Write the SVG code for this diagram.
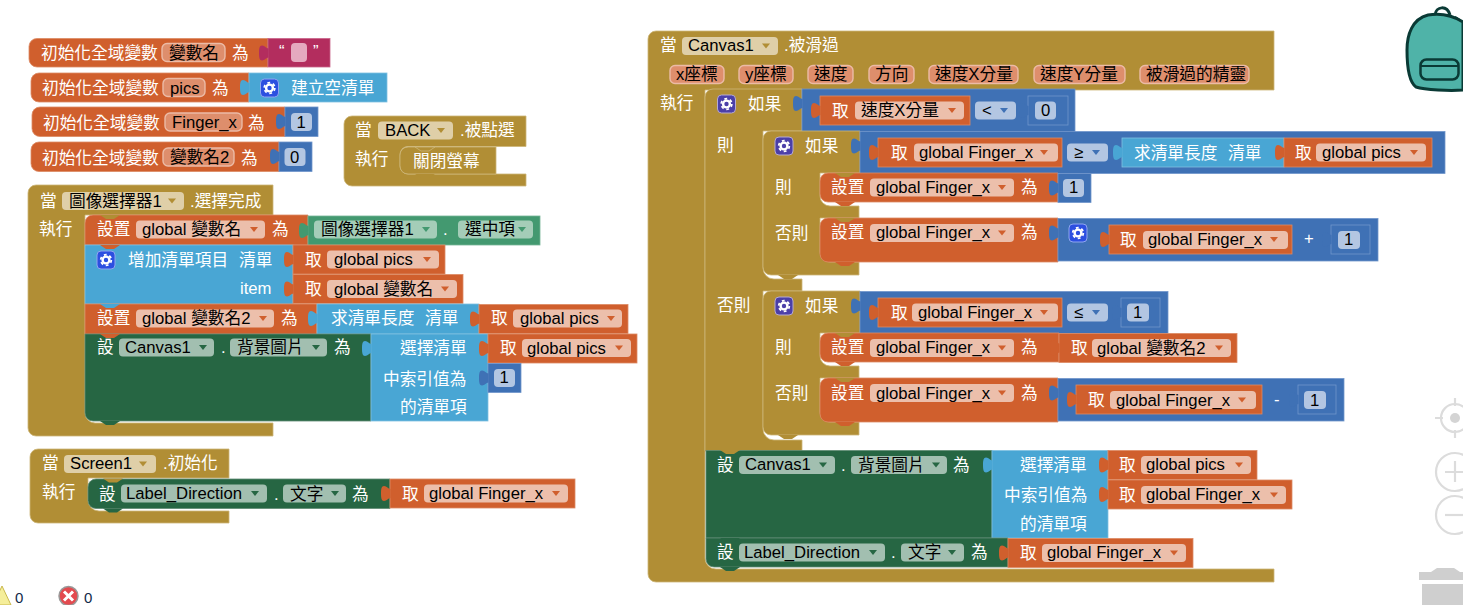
<svg xmlns="http://www.w3.org/2000/svg" width="1463" height="605" viewBox="0 0 1463 605">
<style>
text{font-family:"Liberation Sans","Noto Sans CJK TC",sans-serif;font-size:16.7px;fill:#fff;white-space:pre}
text.k{fill:#000}
.o{fill:#d05f2d;stroke:#dc8a64;stroke-width:.8}
.l{fill:#49a6d4;stroke:#7fc1e1;stroke-width:.8}
.m{fill:#3f71b5;stroke:#7096cb;stroke-width:.8}
.g{fill:#b18e35;stroke:#cdb678;stroke-width:.8}
.d{fill:#266643;stroke:#5f8c74;stroke-width:.8}
.t{fill:#439970;stroke:#76b497;stroke-width:.8}
.p{fill:#b32d5e;stroke:#c9648a;stroke-width:.8}
.nb{stroke:none}
.fo{fill:#ecbfab}.fg{fill:#dfcfa8}.fd{fill:#a2bfb0}.fm{fill:#b3c6e2}.ft{fill:#a4cdb8}
.fv{fill:#de8e6c;stroke:#ecbba6;stroke-width:1.4}
.ao{fill:#d05f2d}.ag{fill:#b18e35}.ad{fill:#266643}.am{fill:#3f71b5}.at{fill:#439970}
.gb{fill:#2c4fe0;stroke:#8fa6ef;stroke-width:1}
.gp{fill:#4b3fa8;stroke:#b6aad0;stroke-width:1}
.ui{fill:none;stroke:#dcdcdc;stroke-width:2.2}
</style>
<defs>
<path id="tab" d="M.5 10C-2 10-3 7-6 7C-8.500 7-9 10-9 14.500C-9 19-8.500 22-6 22C-3 22-2 19 .5 19z"/>
<path id="arr" d="M0 0h8l-4 5z"/>
<path id="nt" d="M0 0l6 4h8l6-4z"/>
<g id="gear" fill="none" stroke="#fff"><circle cx="9" cy="9" r="3.400" stroke-width="2.400"/><circle cx="9" cy="9" r="5.300" stroke-width="1.800" stroke-dasharray="2.800 2.750"/></g>
</defs>

<g id="init-string">
<path class="o" d="M37 38.5H268V67H37a8 8 0 0 1-8-8V46.500a8 8 0 0 1 8-8z"/>
<text x="41" y="59">初始化全域變數</text><rect class="fv" x="162" y="43.500" width="63" height="18" rx="5"/><text class="k" x="169" y="59">變數名</text><text x="232" y="59">為</text>
<g transform="translate(268 38.500)"><rect class="p" width="62" height="28.500"/><use href="#tab" class="p nb"/></g>
<rect x="291" y="43" width="16" height="19" rx="4" fill="#e5a9bf"/><text x="279" y="57" font-size="13">“</text><text x="313" y="57">”</text>
</g>
<g id="init-pics">
<path class="o" d="M39 73H249V102H39a8 8 0 0 1-8-8V81a8 8 0 0 1 8-8z"/>
<text x="42" y="94">初始化全域變數</text><rect class="fv" x="163" y="78.500" width="42" height="18" rx="5"/><text class="k" x="170" y="94">pics</text><text x="212" y="94">為</text>
<g transform="translate(249 73)"><rect class="l" width="138" height="29"/><use href="#tab" class="l nb"/></g>
<rect class="gb" x="260.500" y="79" width="18" height="18" rx="4"/><use href="#gear" x="260.500" y="79"/><text x="291" y="94">建立空清單</text>
</g>
<g id="init-finger">
<path class="o" d="M40 107H285V136.500H40a8 8 0 0 1-8-8V115a8 8 0 0 1 8-8z"/>
<text x="43" y="129">初始化全域變數</text><rect class="fv" x="165" y="113" width="77" height="18" rx="5"/><text class="k" x="172" y="128">Finger_x</text><text x="248" y="129">為</text>
<g transform="translate(285 107)"><rect class="m" width="33" height="29.500"/><use href="#tab" class="m nb"/></g>
<rect class="fm" x="291" y="113" width="21" height="18" rx="4"/><text class="k" x="296.500" y="128">1</text>
</g>
<g id="init-name2">
<path class="o" d="M39 142H279V171.500H39a8 8 0 0 1-8-8V150a8 8 0 0 1 8-8z"/>
<text x="42" y="164">初始化全域變數</text><rect class="fv" x="163" y="148" width="71" height="18" rx="5"/><text class="k" x="170" y="163">變數名2</text><text x="241" y="164">為</text>
<g transform="translate(279 142)"><rect class="m" width="33" height="29.500"/><use href="#tab" class="m nb"/></g>
<rect class="fm" x="284.500" y="148" width="21" height="18" rx="4"/><text class="k" x="290" y="163">0</text>
</g>

<g id="when-back">
<path class="g" d="M352 116H526V146.500H408a8 8 0 0 0-8 8V166a8 8 0 0 0 8 8H526V186H352a8 8 0 0 1-8-8V124a8 8 0 0 1 8-8z"/>
<text x="355" y="136">當</text><rect class="fg" x="378" y="121.500" width="75" height="18" rx="4"/><text class="k" x="385" y="136">BACK</text><use href="#arr" x="437" y="128" class="ag"/><text x="460" y="136">.被點選</text><text x="355" y="165">執行</text>
<path class="g" d="M408 147H496V174H408a8 8 0 0 1-8-8V155a8 8 0 0 1 8-8z"/><use href="#nt" x="415" y="147" class="g"/><use href="#nt" x="415" y="174" class="g nb"/>
<text x="413" y="167">關閉螢幕</text>
</g>

<g id="when-picker">
<path class="g" d="M36 185H273V215H85V413a10 10 0 0 0 10 10H273V436H36a8 8 0 0 1-8-8V193a8 8 0 0 1 8-8z"/>
<text x="40" y="207">當</text><rect class="fg" x="62" y="192" width="122" height="18" rx="4"/><text class="k" x="69" y="207">圖像選擇器1</text><use href="#arr" x="168" y="198.500" class="ag"/><text x="190" y="207">.選擇完成</text><text x="39" y="235">執行</text>
<path class="o" d="M93 215H308V245H85V223a8 8 0 0 1 8-8z"/>
<use href="#nt" x="100" y="215" class="g nb"/>
<text x="97" y="235">設置</text><rect class="fo" x="136" y="220.500" width="129" height="18" rx="4"/><text class="k" x="142" y="235">global 變數名</text><use href="#arr" x="250" y="227" class="ao"/><text x="272" y="235">為</text>
<g transform="translate(308 216)"><rect class="t" width="232" height="29"/><use href="#tab" class="t nb"/></g>
<rect class="ft" x="314" y="220.500" width="123" height="18" rx="4"/><text class="k" x="321" y="235">圖像選擇器1</text><use href="#arr" x="422" y="227" class="at"/><text x="443" y="235">.</text><rect class="ft" x="458" y="220.500" width="75" height="18" rx="4"/><text class="k" x="465" y="235">選中項</text><use href="#arr" x="518" y="227" class="at"/>
<rect class="l" x="85" y="245" width="208" height="59"/><use href="#nt" x="100" y="245" class="o nb"/>
<rect class="gb" x="97" y="251" width="18" height="18" rx="4"/><use href="#gear" x="97" y="251"/><text x="128" y="266">增加清單項目</text><text x="239" y="266">清單</text><text x="240" y="294">item</text>
<g transform="translate(293 245)"><rect class="o" width="152" height="29"/><use href="#tab" class="o nb"/></g>
<text x="305" y="266">取</text><rect class="fo" x="327" y="250.500" width="112" height="18" rx="4"/><text class="k" x="334" y="265">global pics</text><use href="#arr" x="423" y="257" class="ao"/>
<g transform="translate(293 274.500)"><rect class="o" width="170" height="29"/><use href="#tab" class="o nb"/></g>
<text x="305" y="295">取</text><rect class="fo" x="327" y="280" width="130" height="18" rx="4"/><text class="k" x="334" y="295">global 變數名</text><use href="#arr" x="441" y="286.500" class="ao"/>
<rect class="o" x="85" y="304" width="232" height="30"/><use href="#nt" x="100" y="304" class="l nb"/>
<text x="97" y="324">設置</text><rect class="fo" x="136" y="309.500" width="138" height="18" rx="4"/><text class="k" x="142" y="324">global 變數名2</text><use href="#arr" x="259" y="316" class="ao"/><text x="281" y="324">為</text>
<g transform="translate(317 304)"><rect class="l" width="162" height="30"/><use href="#tab" class="l nb"/></g>
<text x="331" y="324">求清單長度</text><text x="425" y="324">清單</text>
<g transform="translate(479 304.500)"><rect class="o" width="149" height="29"/><use href="#tab" class="o nb"/></g>
<text x="491" y="324">取</text><rect class="fo" x="513" y="309.500" width="109" height="18" rx="4"/><text class="k" x="520" y="324">global pics</text><use href="#arr" x="607" y="316" class="ao"/>
<path class="d" d="M85 334H371V421H93a8 8 0 0 1-8-8z"/><use href="#nt" x="100" y="334" class="o nb"/><use href="#nt" x="100" y="421" class="d nb"/>
<text x="97" y="353">設</text><rect class="fd" x="119" y="338.500" width="95" height="18" rx="4"/><text class="k" x="125" y="353">Canvas1</text><use href="#arr" x="199" y="345" class="ad"/><text x="221" y="353">.</text><rect class="fd" x="230" y="338.500" width="97" height="18" rx="4"/><text class="k" x="237" y="353">背景圖片</text><use href="#arr" x="312" y="345" class="ad"/><text x="334" y="353">為</text>
<g transform="translate(371 334)"><rect class="l" width="117" height="87"/><use href="#tab" class="l nb"/></g>
<text x="400" y="354">選擇清單</text><text x="383" y="385">中索引值為</text><text x="400" y="413">的清單項</text>
<g transform="translate(488 334)"><rect class="o" width="149" height="29"/><use href="#tab" class="o nb"/></g>
<text x="500" y="354">取</text><rect class="fo" x="522" y="339" width="109" height="18" rx="4"/><text class="k" x="527" y="354">global pics</text><use href="#arr" x="615" y="345.500" class="ao"/>
<g transform="translate(488 363.500)"><rect class="m" width="33" height="29"/><use href="#tab" class="m nb"/></g>
<rect class="fm" x="494" y="369" width="21" height="18" rx="4"/><text class="k" x="499.500" y="383">1</text>
</g>

<g id="when-screen">
<path class="g" d="M38 449H229V478H88V500a11 11 0 0 0 11 11H229V523H38a8 8 0 0 1-8-8V457a8 8 0 0 1 8-8z"/>
<text x="42" y="469">當</text><rect class="fg" x="64" y="455" width="92" height="18" rx="4"/><text class="k" x="70" y="469">Screen1</text><use href="#arr" x="139" y="461.500" class="ag"/><text x="163" y="469">.初始化</text><text x="42" y="498">執行</text>
<path class="d" d="M96 479H390V508.500H96a8 8 0 0 1-8-8V487a8 8 0 0 1 8-8z"/><use href="#nt" x="103" y="478.500" class="g nb"/><use href="#nt" x="103" y="508.500" class="d nb"/>
<text x="99" y="500">設</text><rect class="fd" x="121" y="484.500" width="146" height="18" rx="4"/><text class="k" x="126" y="499">Label_Direction</text><use href="#arr" x="251" y="491" class="ad"/><text x="274" y="500">.</text><rect class="fd" x="283" y="484.500" width="63" height="18" rx="4"/><text class="k" x="290" y="500">文字</text><use href="#arr" x="331" y="491" class="ad"/><text x="352" y="500">為</text>
<g transform="translate(390 479)"><rect class="o" width="185" height="29"/><use href="#tab" class="o nb"/></g>
<text x="402" y="500">取</text><rect class="fo" x="424" y="484.500" width="144" height="18" rx="4"/><text class="k" x="429" y="499">global Finger_x</text><use href="#arr" x="552" y="491" class="ao"/>
</g>

<g id="when-canvas">
<path class="g" d="M656 31H1274V90H705V558a11 11 0 0 0 11 11H1274V582H656a8 8 0 0 1-8-8V39a8 8 0 0 1 8-8z"/>
<text x="660" y="51">當</text><rect class="fg" x="682" y="37" width="96" height="18" rx="4"/><text class="k" x="688" y="51">Canvas1</text><use href="#arr" x="762" y="43.500" class="ag"/><text x="784" y="51">.被滑過</text>
<g class="rowf"><rect class="fv" x="670" y="65.500" width="54" height="18" rx="5"/><text class="k" x="676" y="80">x座標</text><rect class="fv" x="739" y="65.500" width="54" height="18" rx="5"/><text class="k" x="745" y="80">y座標</text><rect class="fv" x="808" y="65.500" width="45" height="18" rx="5"/><text class="k" x="814" y="80">速度</text><rect class="fv" x="869" y="65.500" width="45" height="18" rx="5"/><text class="k" x="875" y="80">方向</text><rect class="fv" x="929" y="65.500" width="89" height="18" rx="5"/><text class="k" x="935" y="80">速度X分量</text><rect class="fv" x="1034" y="65.500" width="91" height="18" rx="5"/><text class="k" x="1040" y="80">速度Y分量</text><rect class="fv" x="1140" y="65.500" width="109" height="18" rx="5"/><text class="k" x="1146" y="80">被滑過的精靈</text></g>
<text x="660" y="109">執行</text>
</g>

<g id="if-outer">
<path class="g" d="M713 89H802V131H763V268a11 11 0 0 0 11 11H802V291H763V429a11 11 0 0 0 11 11H802V451H705V97a8 8 0 0 1 8-8z"/>
<rect class="gp" x="717.500" y="95" width="18" height="18" rx="4"/><use href="#gear" x="717.500" y="95"/><text x="748" y="110">如果</text><text x="717" y="151">則</text><text x="717" y="311">否則</text>
<g transform="translate(802 89)"><rect class="m" width="273" height="43"/><use href="#tab" class="m nb"/></g>
<g transform="translate(820 96)"><rect class="o" width="150" height="29"/><use href="#tab" class="o nb"/></g>
<text x="832" y="117">取</text><rect class="fo" x="855" y="101.500" width="109" height="18" rx="4"/><text class="k" x="861" y="116">速度X分量</text><use href="#arr" x="948" y="108" class="ao"/>
<rect class="fm" x="975" y="101.500" width="41" height="18" rx="4"/><text class="k" x="982" y="116">&lt;</text><use href="#arr" x="1000" y="108" class="am"/>
<g transform="translate(1028 96)"><rect class="m" width="40" height="29"/><use href="#tab" class="m nb"/></g>
<rect class="fm" x="1035" y="101.500" width="21" height="18" rx="4"/><text class="k" x="1041" y="116">0</text>
</g>

<g id="if-then">
<path class="g" d="M771 131H860V173H820V196a10 10 0 0 0 10 10H859V218H820V252a10 10 0 0 0 10 10H859V275H771a8 8 0 0 1-8-8V139a8 8 0 0 1 8-8z"/><use href="#nt" x="778" y="275" class="g nb"/>
<rect class="gp" x="775" y="137" width="18" height="18" rx="4"/><use href="#gear" x="775" y="137"/><text x="805" y="152">如果</text><text x="775" y="193">則</text><text x="775" y="239">否則</text>
<g transform="translate(860 131.500)"><rect class="m" width="585" height="42"/><use href="#tab" class="m nb"/></g>
<g transform="translate(878 138)"><rect class="o" width="184" height="29"/><use href="#tab" class="o nb"/></g>
<text x="891" y="159">取</text><rect class="fo" x="914" y="143.500" width="144" height="18" rx="4"/><text class="k" x="919" y="158">global Finger_x</text><use href="#arr" x="1040" y="150" class="ao"/>
<rect class="fm" x="1067" y="143.500" width="41" height="18" rx="4"/><text class="k" x="1074" y="158">≥</text><use href="#arr" x="1092" y="150" class="am"/>
<g transform="translate(1122 138)"><rect class="l" width="162" height="29"/><use href="#tab" class="l nb"/></g>
<text x="1134" y="159">求清單長度</text><text x="1228" y="159">清單</text>
<g transform="translate(1284 138)"><rect class="o" width="148" height="29"/><use href="#tab" class="o nb"/></g>
<text x="1295" y="159">取</text><rect class="fo" x="1316" y="143.500" width="110" height="18" rx="4"/><text class="k" x="1322" y="158">global pics</text><use href="#arr" x="1410" y="150" class="ao"/>
<path class="o" d="M828 173H1058V202H828a8 8 0 0 1-8-8V181a8 8 0 0 1 8-8z"/><use href="#nt" x="835" y="173" class="g nb"/><use href="#nt" x="835" y="202" class="o nb"/>
<text x="831" y="193">設置</text><rect class="fo" x="870" y="178.500" width="144" height="18" rx="4"/><text class="k" x="876" y="193">global Finger_x</text><use href="#arr" x="998" y="185" class="ao"/><text x="1021" y="193">為</text>
<g transform="translate(1058 173.500)"><rect class="m" width="33" height="29"/><use href="#tab" class="m nb"/></g>
<rect class="fm" x="1063" y="179" width="21" height="18" rx="4"/><text class="k" x="1069" y="193">1</text>
<path class="o" d="M828 218H1058V262H828a8 8 0 0 1-8-8V226a8 8 0 0 1 8-8z"/><use href="#nt" x="835" y="218" class="g nb"/><use href="#nt" x="835" y="262" class="o nb"/>
<text x="831" y="238">設置</text><rect class="fo" x="870" y="224" width="144" height="18" rx="4"/><text class="k" x="876" y="238">global Finger_x</text><use href="#arr" x="998" y="230.500" class="ao"/><text x="1021" y="238">為</text>
<g transform="translate(1058 218.500)"><rect class="m" width="320" height="42.500"/><use href="#tab" class="m nb"/></g>
<rect class="gb" x="1069" y="224" width="18" height="18" rx="4"/><use href="#gear" x="1069" y="224"/>
<g transform="translate(1109 225)"><rect class="o" width="183" height="29"/><use href="#tab" class="o nb"/></g>
<text x="1120" y="246">取</text><rect class="fo" x="1143" y="231" width="145" height="18" rx="4"/><text class="k" x="1148" y="245">global Finger_x</text><use href="#arr" x="1270" y="237" class="ao"/>
<text x="1304" y="244">+</text>
<g transform="translate(1331 225)"><rect class="m" width="39" height="29"/><use href="#tab" class="m nb"/></g>
<rect class="fm" x="1338" y="231" width="22" height="18" rx="4"/><text class="k" x="1344" y="245">1</text>
</g>

<g id="if-else">
<path class="g" d="M771 291H860V333H820V356a10 10 0 0 0 10 10H859V378H820V412a10 10 0 0 0 10 10H859V435H771a8 8 0 0 1-8-8V299a8 8 0 0 1 8-8z"/><use href="#nt" x="778" y="435" class="g nb"/>
<rect class="gp" x="775" y="297" width="18" height="18" rx="4"/><use href="#gear" x="775" y="297"/><text x="805" y="312">如果</text><text x="775" y="353">則</text><text x="775" y="399">否則</text>
<g transform="translate(860 291.500)"><rect class="m" width="308" height="42"/><use href="#tab" class="m nb"/></g>
<g transform="translate(878 298)"><rect class="o" width="184" height="29"/><use href="#tab" class="o nb"/></g>
<text x="891" y="319">取</text><rect class="fo" x="912" y="303.500" width="146" height="18" rx="4"/><text class="k" x="918" y="318">global Finger_x</text><use href="#arr" x="1040" y="310" class="ao"/>
<rect class="fm" x="1067" y="303.500" width="41" height="18" rx="4"/><text class="k" x="1074" y="318">≤</text><use href="#arr" x="1092" y="310" class="am"/>
<g transform="translate(1121 298)"><rect class="m" width="39" height="29"/><use href="#tab" class="m nb"/></g>
<rect class="fm" x="1127" y="303.500" width="22" height="18" rx="4"/><text class="k" x="1133" y="318">1</text>
<path class="o" d="M828 333H1059V362H828a8 8 0 0 1-8-8V341a8 8 0 0 1 8-8z"/><use href="#nt" x="835" y="333" class="g nb"/><use href="#nt" x="835" y="362" class="o nb"/>
<text x="831" y="353">設置</text><rect class="fo" x="870" y="339" width="144" height="18" rx="4"/><text class="k" x="876" y="353">global Finger_x</text><use href="#arr" x="998" y="345.500" class="ao"/><text x="1021" y="353">為</text>
<g transform="translate(1059 333.500)"><rect class="o" width="178" height="29"/><use href="#tab" class="o nb"/></g>
<text x="1071" y="354">取</text><rect class="fo" x="1092" y="339" width="139" height="18" rx="4"/><text class="k" x="1097" y="354">global 變數名2</text><use href="#arr" x="1215" y="345.500" class="ao"/>
<path class="o" d="M828 378H1058V422H828a8 8 0 0 1-8-8V386a8 8 0 0 1 8-8z"/><use href="#nt" x="835" y="378" class="g nb"/><use href="#nt" x="835" y="422" class="o nb"/>
<text x="831" y="399">設置</text><rect class="fo" x="870" y="384" width="144" height="18" rx="4"/><text class="k" x="876" y="399">global Finger_x</text><use href="#arr" x="998" y="390.500" class="ao"/><text x="1021" y="399">為</text>
<g transform="translate(1058 378.500)"><rect class="m" width="286" height="42.500"/><use href="#tab" class="m nb"/></g>
<g transform="translate(1076 385)"><rect class="o" width="186" height="29"/><use href="#tab" class="o nb"/></g>
<text x="1088" y="406">取</text><rect class="fo" x="1110" y="391" width="146" height="18" rx="4"/><text class="k" x="1116" y="406">global Finger_x</text><use href="#arr" x="1238" y="397.500" class="ao"/>
<text x="1274" y="405">-</text>
<g transform="translate(1298 385)"><rect class="m" width="38" height="29"/><use href="#tab" class="m nb"/></g>
<rect class="fm" x="1304" y="391" width="22" height="18" rx="4"/><text class="k" x="1310" y="406">1</text>
</g>

<g id="set-canvas">
<rect class="d" x="706" y="450.500" width="286" height="87.500"/><use href="#nt" x="720" y="450" class="g nb"/>
<text x="717" y="471">設</text><rect class="fd" x="739" y="456" width="96" height="18" rx="4"/><text class="k" x="745" y="470">Canvas1</text><use href="#arr" x="819" y="462.500" class="ad"/><text x="841" y="471">.</text><rect class="fd" x="851" y="456" width="96" height="18" rx="4"/><text class="k" x="858" y="471">背景圖片</text><use href="#arr" x="932" y="462.500" class="ad"/><text x="953" y="471">為</text>
<g transform="translate(992 450.500)"><rect class="l" width="116" height="87.500"/><use href="#tab" class="l nb"/></g>
<text x="1020" y="471">選擇清單</text><text x="1004" y="501">中索引值為</text><text x="1020" y="530">的清單項</text>
<g transform="translate(1108 450.500)"><rect class="o" width="149" height="29"/><use href="#tab" class="o nb"/></g>
<text x="1119" y="471">取</text><rect class="fo" x="1141" y="456" width="110" height="18" rx="4"/><text class="k" x="1146" y="470">global pics</text><use href="#arr" x="1235" y="462.500" class="ao"/>
<g transform="translate(1108 480)"><rect class="o" width="184" height="29"/><use href="#tab" class="o nb"/></g>
<text x="1119" y="501">取</text><rect class="fo" x="1141" y="486" width="145" height="18" rx="4"/><text class="k" x="1146" y="500">global Finger_x</text><use href="#arr" x="1270" y="492.500" class="ao"/>
</g>
<g id="set-label">
<path class="d" d="M706 538H1008V567H714a8 8 0 0 1-8-8z"/><use href="#nt" x="720" y="538" class="d nb"/><use href="#nt" x="720" y="567" class="d nb"/>
<text x="717" y="558">設</text><rect class="fd" x="739" y="543.500" width="146" height="18" rx="4"/><text class="k" x="744" y="558">Label_Direction</text><use href="#arr" x="869" y="550" class="ad"/><text x="891" y="558">.</text><rect class="fd" x="901" y="543.500" width="63" height="18" rx="4"/><text class="k" x="908" y="558">文字</text><use href="#arr" x="948" y="550" class="ad"/><text x="971" y="558">為</text>
<g transform="translate(1008 538.500)"><rect class="o" width="185" height="29"/><use href="#tab" class="o nb"/></g>
<text x="1020" y="559">取</text><rect class="fo" x="1042" y="544" width="144" height="18" rx="4"/><text class="k" x="1047" y="558">global Finger_x</text><use href="#arr" x="1170" y="550.500" class="ao"/>
</g>

<g id="warnings">
<path d="M2 586L11 605H-7z" fill="#f5ee9a" stroke="#c9b84d" stroke-width="1"/>
<text class="k" x="15" y="603" style="font-size:15px;fill:#102a4a">0</text>
<circle cx="68.500" cy="596" r="9.500" fill="#e34a4f" stroke="#999" stroke-width="1.500"/>
<path d="M64 591.500l9 9M73 591.500l-9 9" stroke="#fff" stroke-width="3"/>
<text class="k" x="84" y="603" style="font-size:15px;fill:#102a4a">0</text>
</g>

<g id="backpack">
<path d="M1435 15c1-9 12-10 15 0" fill="none" stroke="#0a3a35" stroke-width="3"/>
<path d="M1455 17c4 2 6 4 8 7" fill="#3f9f95" stroke="#0a3a35" stroke-width="2"/>
<path d="M1428 15C1412 19 1407 35 1407 50C1407 68 1409 82 1416 87C1425 90 1450 91 1463 90V22C1452 15 1440 13 1428 15z" fill="#4fb3a8" stroke="#0a3a35" stroke-width="3"/>
<rect x="1420.500" y="59.500" width="38" height="20" rx="6" fill="none" stroke="#0a3a35" stroke-width="2.500"/>
<path d="M1421 66H1458" stroke="#0a3a35" stroke-width="2"/>
</g>

<g id="controls">
<circle class="ui" cx="1455" cy="418" r="14"/><circle cx="1455" cy="418" r="5" fill="#d4d4d4"/><path class="ui" d="M1455 398v8M1455 430v8M1435 418h8"/>
<circle class="ui" cx="1455" cy="472" r="19"/><path class="ui" d="M1455 461v21M1445 472h18"/>
<circle class="ui" cx="1455" cy="515" r="19"/><path class="ui" d="M1445 515h18"/>
<path d="M1419 572H1431L1437 568H1454L1460 572H1463V580H1419z" fill="#cfcfcf"/><rect x="1422" y="584" width="41" height="21" fill="#cfcfcf"/>
</g>
</svg>
